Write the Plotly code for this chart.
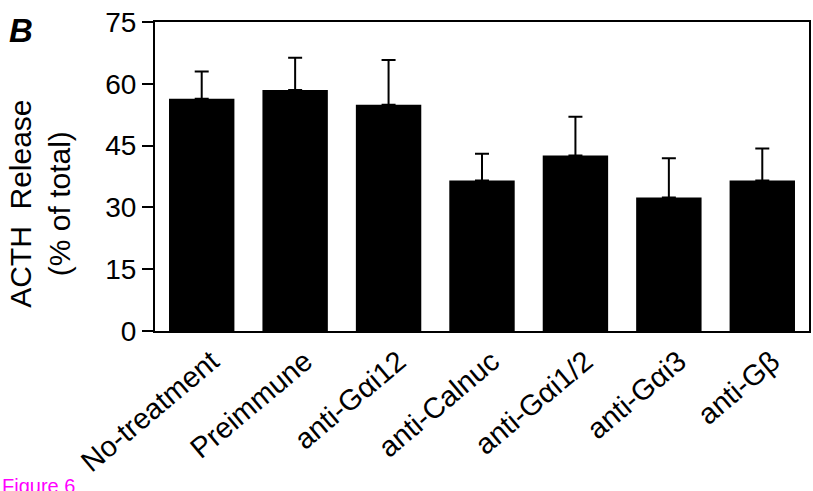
import plotly.graph_objects as go

categories = ["No-treatment", "Preimmune", "anti-Gαi12", "anti-Calnuc",
              "anti-Gαi1/2", "anti-Gαi3", "anti-Gβ"]
acth_release = [56.4, 58.5, 54.9, 36.5, 42.6, 32.4, 36.5]
error_upper = [6.6, 7.8, 10.9, 6.5, 9.4, 9.5, 7.8]
y_ticks = [0, 15, 30, 45, 60, 75]

FONT = "Liberation Sans, Arial, Helvetica, sans-serif"

fig = go.Figure()
fig.add_trace(go.Bar(
    x=categories,
    y=acth_release,
    marker=dict(color="black", line=dict(color="black", width=0)),
    error_y=dict(type="data", array=error_upper, arrayminus=[0] * len(error_upper),
                 symmetric=False, color="black", thickness=2, width=7),
    showlegend=False,
))

fig.update_layout(
    width=813, height=491,
    margin=dict(l=155, r=2, t=22, b=160),
    plot_bgcolor="white", paper_bgcolor="white",
    bargap=0.3,
    font=dict(family=FONT, color="black"),
    xaxis=dict(
        showline=True, linecolor="black", linewidth=2, mirror=True,
        ticks="", tickangle=-40, tickfont=dict(size=29, family=FONT),
        ticklabelshift=10,
        range=[-0.5, 6.5],
    ),
    yaxis=dict(
        range=[0, 75], tickvals=y_ticks, ticktext=[str(v) for v in y_ticks],
        showline=True, linecolor="black", linewidth=2, mirror=True,
        ticks="outside", ticklen=11, tickwidth=2, tickcolor="black",
        tickfont=dict(size=28, family=FONT), showgrid=False, zeroline=False,
    ),
    annotations=[
        dict(text="ACTH  Release<br>(% of total)", textangle=-90,
             xref="paper", yref="paper", x=-0.175, y=0.41,
             xanchor="center", yanchor="middle", showarrow=False,
             font=dict(size=30, family=FONT)),
        dict(text="<b><i>B</i></b>", xref="paper", yref="paper",
             x=-0.226, y=1.038, xanchor="left", yanchor="top", showarrow=False,
             font=dict(size=33, family=FONT)),
        dict(text="Figure 6", xref="paper", yref="paper",
             x=-0.2363, y=-0.46, xanchor="left", yanchor="top", showarrow=False,
             font=dict(size=20, family=FONT, color="#ff00ff")),
    ],
)

fig.write_html("out.html", config={"displayModeBar": False},
               post_script="document.body.style.margin='0px';")
